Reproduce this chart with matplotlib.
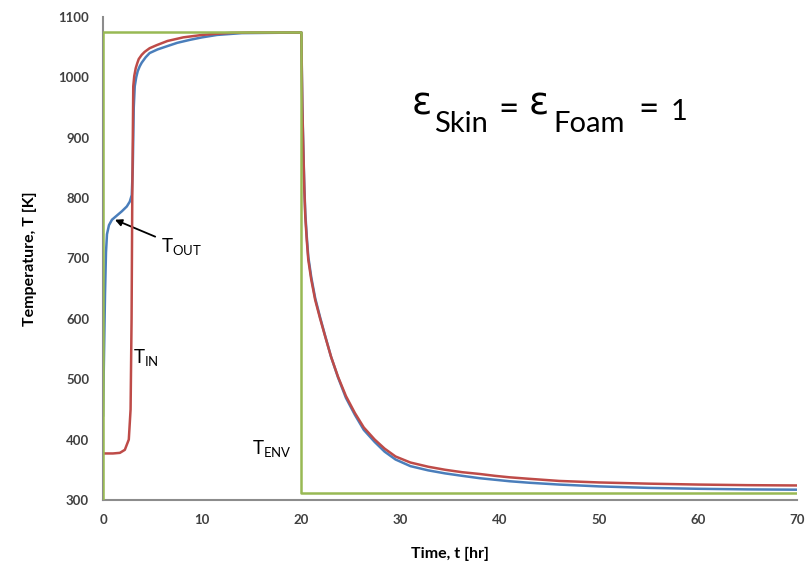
import matplotlib
matplotlib.use("Agg")
import matplotlib.pyplot as plt

plt.rcParams['font.family'] = ['Lato', 'DejaVu Sans']
plt.rcParams['mathtext.fontset'] = 'custom'
plt.rcParams['mathtext.rm'] = 'Lato'

# inner temperature T_IN (red)
t_in = [0, 1.0, 1.7, 2.2, 2.6, 2.78, 2.88, 2.95, 3.05, 3.15, 3.3, 3.45, 3.6, 3.9, 4.2, 4.7, 5.4, 6.5, 8.1, 10, 11.5, 13, 15, 20.0,
        20.05, 20.1, 20.2, 20.3, 20.4, 20.55, 20.7, 21.0, 21.4, 21.9, 22.4, 23.0, 23.7, 24.5, 25.4, 26.3, 27.4, 28.4,
        29.5, 31.0, 32.8, 34.5, 36.2, 38, 39.5, 41, 43, 46, 50, 55, 60, 65, 70]
T_in = [377, 377, 378, 383, 400, 450, 600, 800, 985, 1002, 1015, 1023, 1030, 1037, 1042, 1048, 1053, 1060, 1066, 1070, 1072, 1073.5, 1074, 1074,
        1010, 950, 880, 815, 769, 730, 698, 665, 631, 600, 571, 537, 504, 472, 444, 420, 400, 385,
        372, 362, 355, 350, 346, 343, 340, 337.5, 335, 331.5, 329, 327, 325.5, 324.5, 324]

# outer skin temperature T_OUT (blue)
t_out = [0, 0.1, 0.2, 0.3, 0.4, 0.6, 0.9, 1.4, 1.9, 2.4, 2.7, 2.9, 3.0, 3.1, 3.2, 3.35, 3.5, 3.7, 3.9, 4.3, 4.7, 5.5, 6.4, 7.5,
         8.8, 10, 11.5, 14, 20.0,
         20.05, 20.1, 20.2, 20.3, 20.4, 20.55, 20.7, 21.0, 21.4, 21.9, 22.4, 23.0, 23.7, 24.5, 25.4, 26.3, 27.4, 28.4,
         29.5, 31.0, 32.8, 34.5, 36.2, 38, 39.5, 41, 43, 46, 50, 55, 60, 65, 70]
T_out = [440, 540, 640, 710, 740, 755, 764, 771, 778, 786, 794, 805, 850, 950, 985, 1000, 1010, 1018, 1024, 1033, 1040, 1046, 1051, 1057,
         1062, 1066, 1070, 1073, 1074,
         1015, 955, 885, 820, 775, 736, 703, 669, 634, 602, 572, 537, 503, 469, 441, 416, 396, 380,
         367, 356, 349, 344, 340, 336, 333.5, 331, 328.5, 325.5, 322.5, 320, 318.5, 317.5, 317]

# environment temperature T_ENV (green step)
t_env = [0, 0, 20, 20, 70]
T_env = [300, 1075, 1075, 311, 311]

fig = plt.figure(figsize=(8.08, 5.8), dpi=100)
ax = fig.add_axes([0.1275, 0.138, 0.859, 0.833])

ax.plot(t_out, T_out, color='#4a7ebb', lw=1.8, zorder=3)
ax.plot(t_in, T_in, color='#be4b48', lw=1.8, zorder=4)
ax.plot(t_env, T_env, color='#98b954', lw=1.8, zorder=5)

ax.set_xlim(0, 70)
ax.set_ylim(300, 1100)
ax.set_xticks(range(0, 71, 10))
ax.set_yticks(range(300, 1101, 100))
ax.tick_params(length=0, labelsize=9.5, labelcolor='#404040', pad=10)
for lab in ax.get_xticklabels() + ax.get_yticklabels():
    lab.set_fontweight('bold')

for s in ('top', 'right'):
    ax.spines[s].set_visible(False)
for s in ('left', 'bottom'):
    ax.spines[s].set_color('#8c8c8c')
    ax.spines[s].set_linewidth(1.5)

ax.set_xlabel('Time, t [hr]', fontsize=11.5, fontweight='bold', labelpad=15)
ax.set_ylabel('Temperature, T [K]', fontsize=11.5, fontweight='bold', labelpad=15)

# curve labels
ax.annotate(r'T$_{\rm OUT}$', xy=(1.2, 764), xytext=(5.8, 718), fontsize=13.5,
            va='center', ha='left',
            arrowprops=dict(arrowstyle='-|>', color='black', lw=1.3, mutation_scale=10,
                            shrinkA=2, shrinkB=0))
ax.text(3.05, 535, r'T$_{\rm IN}$', fontsize=13.5, va='center', ha='left')
ax.text(15.0, 383, r'T$_{\rm ENV}$', fontsize=13.5, va='center', ha='left')

# emissivity note, built piece by piece so the subscripts stay large
W, H = 808.0, 580.0
pieces = [
    ('ε', 412, 114, 27, 'DejaVu Sans'),
    ('Skin', 434, 132, 21, 'Lato'),
    ('=', 498, 120, 25, 'Lato'),
    ('ε', 529, 114, 27, 'DejaVu Sans'),
    ('Foam', 553, 132, 21, 'Lato'),
    ('=', 638, 120, 25, 'Lato'),
    ('1', 671, 120, 21, 'Lato'),
]
for txt, px, py, size, fam in pieces:
    fig.text(px / W, 1 - py / H, txt, fontsize=size, ha='left', va='baseline',
             family=[fam, 'DejaVu Sans'])

fig.savefig('out.png', dpi=100)
